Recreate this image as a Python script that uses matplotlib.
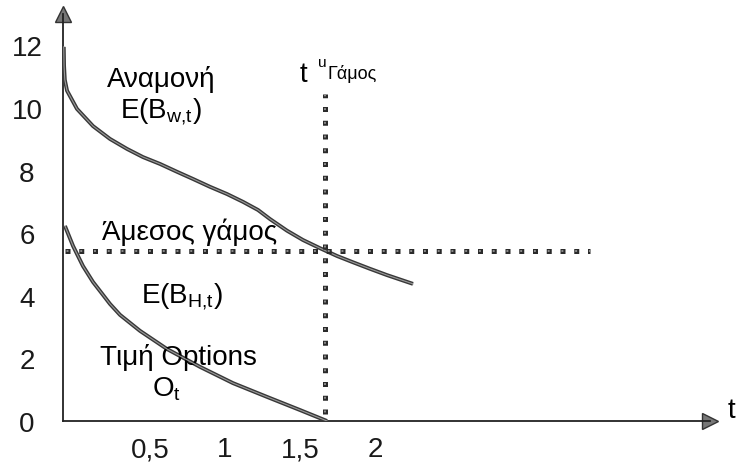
import numpy as np
import matplotlib
matplotlib.use('Agg')
import matplotlib.pyplot as plt

plt.rcParams['font.family'] = ['Liberation Sans', 'DejaVu Sans']
plt.rcParams['mathtext.fontset'] = 'custom'
plt.rcParams['mathtext.rm'] = 'Liberation Sans'
plt.rcParams['mathtext.it'] = 'Liberation Sans:italic'

# waiting value E(B_w,t)
t_wait = [-0.075, -0.073, -0.068, -0.053, 0.013, 0.12, 0.233, 0.347, 0.453, 0.567,
          0.68, 0.787, 0.9, 1.013, 1.12, 1.22, 1.30, 1.413, 1.52, 1.633,
          1.747, 1.853, 1.967, 2.08, 2.253]
b_wait = [11.95, 11.35, 10.90, 10.55, 9.97, 9.42, 9.01, 8.69, 8.43, 8.21,
          7.96, 7.73, 7.48, 7.25, 7.00, 6.74, 6.45, 6.08, 5.78, 5.52,
          5.27, 5.07, 4.86, 4.66, 4.38]

# immediate marriage E(B_H,t) / option value
t_now = [-0.067, -0.013, 0.053, 0.12, 0.167, 0.233, 0.30, 0.433, 0.613,
         0.833, 1.053, 1.28, 1.5, 1.68]
b_now = [6.23, 5.59, 4.95, 4.44, 4.15, 3.74, 3.39, 2.88, 2.30,
         1.73, 1.21, 0.77, 0.35, 0.0]

t_u = 1.667          # optimal marriage time
level_u = 5.43       # value at t_u
vline_span = [0.22, 10.45]
hline_span = [-0.067, 3.43]

xtick_vals = [0.5, 1, 1.5, 2]
xtick_labels = ['0,5', '1', '1,5', '2']
ytick_vals = [0, 2, 4, 6, 8, 10, 12]

fig = plt.figure(figsize=(7.37, 4.64), dpi=100)
ax = fig.add_axes([63/737, 42/464, 647/737, 407/464])
ax.set_xlim(-0.08, 4.233)
ax.set_ylim(0, 13.0)

for s in ['top', 'right']:
    ax.spines[s].set_visible(False)
for s in ['left', 'bottom']:
    ax.spines[s].set_linewidth(1.3)
    ax.spines[s].set_color('#222222')

ax.plot(1, 0, '>', ms=11, color='#777777', mec='#333333', transform=ax.transAxes, clip_on=False)
ax.plot(0, 1, '^', ms=11, color='#777777', mec='#333333', transform=ax.transAxes, clip_on=False)

ax.set_xticks(xtick_vals)
ax.set_xticklabels(xtick_labels)
ax.set_yticks(ytick_vals)
ax.tick_params(axis='both', length=0, labelsize=20, colors='#1a1a1a')
ax.tick_params(axis='x', pad=11)
ax.tick_params(axis='y', pad=26)
for lbl in ax.get_yticklabels():
    lbl.set_ha('center')

# curves: dark stroke with lighter core
for tt, bb in [(t_wait, b_wait), (t_now, b_now)]:
    ax.plot(tt, bb, color='#383838', lw=2.8, solid_capstyle='butt',
            solid_joinstyle='round', zorder=3)
    ax.plot(tt, bb, color='#9a9a9a', lw=0.8, solid_joinstyle='round', zorder=4)

# dotted reference lines made of small squares (dark rim, grey core)
def square_dots(x, y):
    ax.plot(x, y, color='#2a2a2a', lw=3.6, ls=(0, (1, 1.75)), zorder=5)
    ax.plot(x, y, color='#8c8c8c', lw=1.4, ls=(6.29, (1, 6.07)), zorder=6)

square_dots([t_u, t_u], vline_span)
square_dots(hline_span, [level_u, level_u])

fs = 20
ax.text(0.573, 10.70, 'Αναμονή', fontsize=fs, ha='center', va='baseline')
ax.text(0.573, 9.71, r'E(B$_{\mathrm{w{,}t}}$)', fontsize=fs, ha='center', va='baseline')
ax.text(0.767, 5.81, 'Άμεσος γάμος', fontsize=fs, ha='center', va='baseline')
ax.text(0.713, 3.80, r'E(B$_{\mathrm{H{,}t}}$)', fontsize=fs, ha='center', va='baseline')
ax.text(0.687, 1.82, 'Τιμή Options', fontsize=fs, ha='center', va='baseline')
ax.text(0.607, 0.80, r'O$_{\mathrm{t}}$', fontsize=fs, ha='center', va='baseline')

ax.text(1.5, 10.86, 't', fontsize=fs, ha='left', va='baseline')
ax.text(1.62, 11.35, 'u', fontsize=11, ha='left', va='baseline')
ax.text(1.68, 10.95, 'Γάμος', fontsize=13, ha='left', va='baseline')

ax.text(4.373, 0.13, 't', fontsize=fs, ha='center', va='baseline', clip_on=False)

fig.savefig('out.png', dpi=100)
